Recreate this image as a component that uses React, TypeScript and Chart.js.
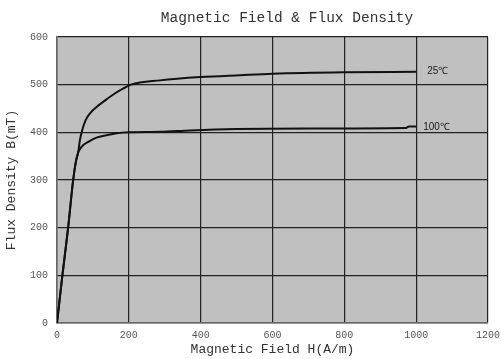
import React, { useEffect, useRef } from "react";
import { Chart, registerables } from "chart.js";

Chart.register(...registerables);

const TITLE = "Magnetic Field & Flux Density";
const X_TITLE = "Magnetic Field H(A/m)";
const Y_TITLE = "Flux Density B(mT)";

const H_25 = [0, 15, 31, 45, 53, 59, 63, 69, 80, 92, 110, 134, 162, 185, 206, 287, 400, 510, 600, 800, 1000];
const B_25 = [0, 100, 200, 300, 340, 358, 380, 401, 426, 440, 453, 467, 482, 492, 500, 509, 516, 520, 523, 526, 527];

const H_100 = [0, 15, 31, 45, 53, 59, 69, 87, 110, 138, 166, 200, 287, 370, 500, 700, 970, 980, 1000];
const B_100 = [0, 100, 200, 300, 340, 358, 370, 380, 389, 394, 398, 400, 401, 404, 407, 408, 409, 412, 412];

const SERIES_LABELS = ["25℃", "100℃"];

const X_MIN = 0, X_MAX = 1200, X_STEP = 200;
const Y_MIN = 0, Y_MAX = 600, Y_STEP = 100;

const toPoints = (xs: number[], ys: number[]) => xs.map((x, i) => ({ x, y: ys[i] }));

export default function App() {
  const ref = useRef<HTMLCanvasElement | null>(null);

  useEffect(() => {
    if (!ref.current) return;
    document.body.style.margin = "0";

    const bgPlugin = {
      id: "bgPlugin",
      beforeDraw(chart: any) {
        const { ctx, chartArea } = chart;
        ctx.save();
        ctx.fillStyle = "#ffffff";
        ctx.fillRect(0, 0, chart.width, chart.height);
        ctx.fillStyle = "#c0c0c0";
        ctx.fillRect(chartArea.left, chartArea.top, chartArea.right - chartArea.left, chartArea.bottom - chartArea.top);
        ctx.restore();
      },
      afterDraw(chart: any) {
        const { ctx } = chart;
        const xs = chart.scales.x;
        const ys = chart.scales.y;
        ctx.save();
        ctx.fillStyle = "#333333";
        ctx.font = "14.5px 'Liberation Mono', 'DejaVu Sans Mono', monospace";
        ctx.textAlign = "center";
        ctx.textBaseline = "middle";
        ctx.fillText(TITLE, 287, 18);
        ctx.font = "10px 'Liberation Sans', Arial, sans-serif";
        ctx.fillStyle = "#1a1a1a";
        ctx.textAlign = "left";
        const ends = [
          { x: H_25[H_25.length - 1], y: B_25[B_25.length - 1], dx: 11, dy: -1 },
          { x: H_100[H_100.length - 1], y: B_100[B_100.length - 1], dx: 7, dy: 1 },
        ];
        ends.forEach((e, i) => {
          ctx.fillText(SERIES_LABELS[i], xs.getPixelForValue(e.x) + e.dx, ys.getPixelForValue(e.y) + e.dy);
        });
        ctx.restore();
      },
    };

    const lineStyle = {
      borderColor: "#111111",
      borderWidth: 2,
      pointRadius: 0,
      fill: false,
      cubicInterpolationMode: "monotone" as const,
    };

    const tickFont = { family: "'Liberation Mono', monospace", size: 10 };

    const chart = new Chart(ref.current, {
      type: "line",
      data: {
        datasets: [
          { label: SERIES_LABELS[0], data: toPoints(H_25, B_25), ...lineStyle },
          { label: SERIES_LABELS[1], data: toPoints(H_100, B_100), ...lineStyle },
        ],
      },
      options: {
        animation: false,
        responsive: false,
        maintainAspectRatio: false,
        layout: { padding: { top: 37, right: 13, left: 0, bottom: 0 } },
        plugins: {
          legend: { display: false },
          title: { display: false },
          tooltip: { enabled: false },
        },
        scales: {
          x: {
            type: "linear",
            min: X_MIN,
            max: X_MAX,
            ticks: {
              stepSize: X_STEP,
              padding: 6,
              color: "#555555",
              font: tickFont,
              maxRotation: 0,
              callback: (v: any) => String(v),
            },
            grid: { color: "#222222", lineWidth: 1.2, drawTicks: false },
            border: { color: "#666666", width: 1.5 },
            title: {
              display: true,
              text: X_TITLE,
              color: "#333333",
              font: { family: "'Liberation Mono', monospace", size: 13 },
              padding: { top: 0, bottom: 1.2 },
            },
            afterFit(scale: any) {
              scale.height = 36;
              scale.paddingLeft = 0;
              scale.paddingRight = 0;
            },
          },
          y: {
            type: "linear",
            min: Y_MIN,
            max: Y_MAX,
            ticks: {
              stepSize: Y_STEP,
              padding: 9,
              color: "#555555",
              font: tickFont,
              callback: (v: any) => String(v),
            },
            grid: { color: "#222222", lineWidth: 1.2, drawTicks: false },
            border: { color: "#666666", width: 1.5 },
            title: {
              display: true,
              text: Y_TITLE,
              color: "#333333",
              font: { family: "'Liberation Mono', monospace", size: 13 },
              padding: { top: 4.2, bottom: 0 },
            },
            afterFit(scale: any) {
              scale.width = 57;
              scale.paddingTop = 0;
              scale.paddingBottom = 0;
            },
          },
        },
      },
      plugins: [bgPlugin],
    });

    return () => chart.destroy();
  }, []);

  return (
    <div style={{ position: "absolute", left: 0, top: 0, width: 501, height: 359 }}>
      <canvas ref={ref} width={501} height={359} style={{ width: 501, height: 359, display: "block" }} />
    </div>
  );
}
